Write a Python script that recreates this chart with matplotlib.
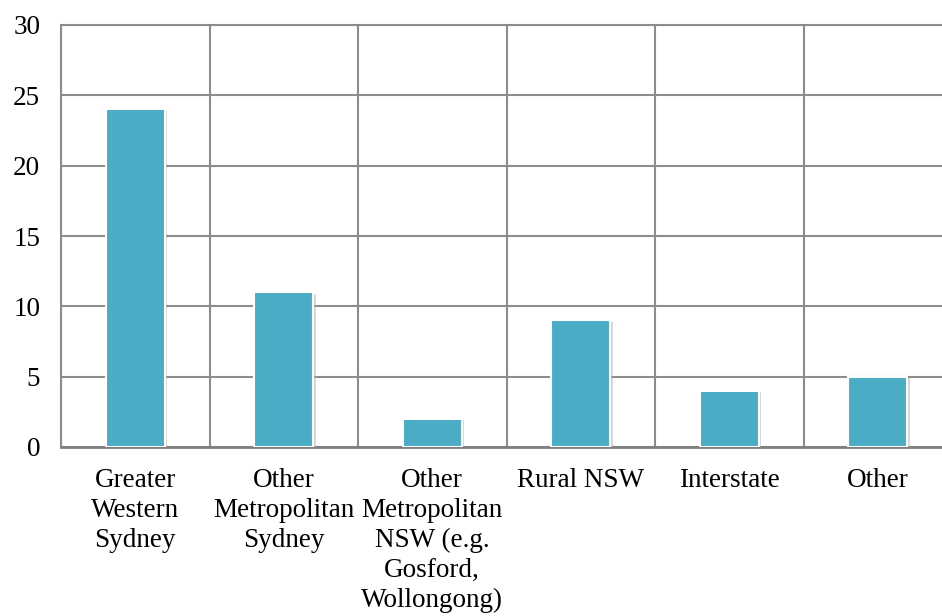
import matplotlib.pyplot as plt
import matplotlib.patheffects as pe
import numpy as np

# data
categories = ['Greater\nWestern\nSydney', 'Other\nMetropolitan\nSydney',
              'Other\nMetropolitan\nNSW (e.g.\nGosford,\nWollongong)',
              'Rural NSW', 'Interstate', 'Other']
values = [24, 11, 2, 9, 4, 5]
yticks = [0, 5, 10, 15, 20, 25, 30]

plt.rcParams['font.family'] = ['Liberation Serif', 'DejaVu Serif']

fig = plt.figure(figsize=(9.42, 6.16), dpi=100)
ax = fig.add_axes([61 / 942, 1 - 447 / 616, (952 - 61) / 942, (447 - 25) / 616])

x = np.arange(len(categories))
grid_col = '#8c8c8c'

# horizontal grid lines under the bars
for yv in yticks:
    ax.axhline(yv, color=grid_col, lw=1.5, zorder=1)
# vertical lines between categories
for xv in np.arange(-0.5, len(categories) + 0.5, 1):
    ax.axvline(xv, color=grid_col, lw=1.5, zorder=1)

bars = ax.bar(x, values, width=0.4, color='#4bacc6', edgecolor='white',
              linewidth=1.5, zorder=3)
for b in bars:
    b.set_path_effects([pe.SimplePatchShadow(offset=(1.5, -1), shadow_rgbFace='#b0b0b0', alpha=0.5),
                        pe.Normal()])

ax.set_xlim(-0.5, len(categories) - 0.5)
ax.set_ylim(0, 30)
ax.set_yticks(yticks)
ax.set_xticks(x)
ax.set_xticklabels(categories, fontsize=19.5, linespacing=1.26)
ax.tick_params(axis='y', labelsize=19.5, length=0, pad=15)
ax.tick_params(axis='x', length=0, pad=15)
for lab in ax.get_yticklabels():
    lab.set_horizontalalignment('right')

for s in ax.spines.values():
    s.set_color(grid_col)
    s.set_linewidth(1.5)
ax.spines['bottom'].set_linewidth(2)
ax.spines['bottom'].set_color('#808080')

fig.savefig('out.png', dpi=100)
